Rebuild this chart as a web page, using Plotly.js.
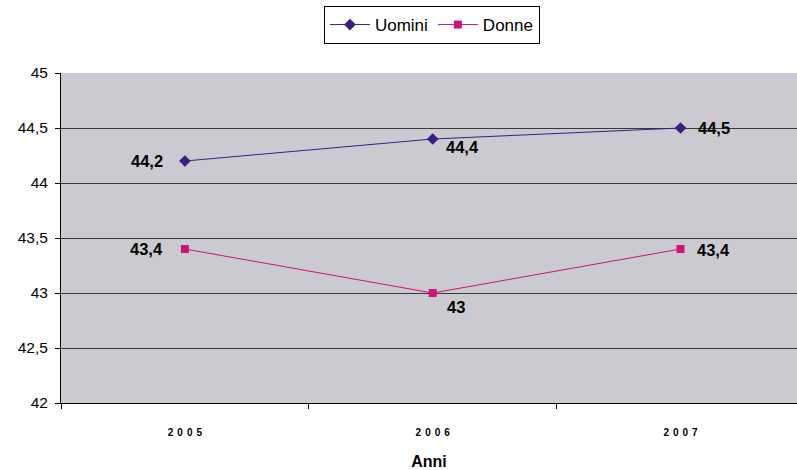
<!DOCTYPE html>
<html><head><meta charset="utf-8">
<script src="https://cdn.plot.ly/plotly-3.0.1.min.js"></script>
<style>html,body{margin:0;padding:0;background:#fff;overflow:hidden}</style>
</head><body><div id="chart" style="width:797px;height:470px"></div>
<script>
const years = ['2005', '2006', '2007'];
const uomini = [44.2, 44.4, 44.5];
const donne = [43.4, 43.0, 43.4];
const yTicks = [42, 42.5, 43, 43.5, 44, 44.5, 45];

const xs = years.map((_, i) => i);
const fmt = v => String(v).replace('.', ',');

const traces = [
  {x: xs, y: uomini, name: 'Uomini', mode: 'lines+markers', type: 'scatter',
   line: {color: '#3C1E82', width: 1}, marker: {symbol: 'diamond', size: 9, color: '#3C1E82'}},
  {x: xs, y: donne, name: 'Donne', mode: 'lines+markers', type: 'scatter',
   line: {color: '#CC1479', width: 1}, marker: {symbol: 'square', size: 8, color: '#CC1479'}}
];

const uShift = [[-38, 0], [30, -8], [33, 0]];
const dShift = [[-38, 0], [23, -14], [33, -1]];
const annFont = {family: 'Liberation Sans, Arial', size: 16.5, color: '#000', weight: 'bold'};
const annotations = [];
uomini.forEach((v, i) => annotations.push({x: xs[i], y: v, text: fmt(v), showarrow: false,
  xshift: uShift[i][0], yshift: uShift[i][1], font: annFont}));
donne.forEach((v, i) => annotations.push({x: xs[i], y: v, text: fmt(v), showarrow: false,
  xshift: dShift[i][0], yshift: dShift[i][1], font: annFont}));

const layout = {
  width: 797, height: 470,
  margin: {l: 61, r: 0, t: 73, b: 67},
  paper_bgcolor: '#ffffff', plot_bgcolor: '#CBCAD0',
  separators: ',.',
  font: {family: 'Liberation Sans, Arial', color: '#000'},
  showlegend: true,
  legend: {orientation: 'h', x: 0.504, xanchor: 'center', y: 1.203, yanchor: 'top',
    bordercolor: '#000', borderwidth: 1, bgcolor: '#fff', font: {size: 17},
    itemwidth: 40, tracegroupgap: 0},
  xaxis: {range: [-0.5, 2.47], tickmode: 'array', tickvals: xs,
    ticktext: years.map(y => y.split('').join('\u2009\u2009')),
    ticks: '', showgrid: false, zeroline: false, showline: true, linecolor: '#000', linewidth: 1,
    tickfont: {size: 10, weight: 'bold'}, ticklabelstandoff: 20,
    minor: {tickvals: [-0.5, 0.5, 1.5], ticks: 'outside', ticklen: 5, tickcolor: '#000', showgrid: false},
    title: {text: '<b>Anni</b>', font: {size: 16}, standoff: 18}, fixedrange: true},
  yaxis: {range: [42, 45], tickmode: 'array', tickvals: yTicks, ticktext: yTicks.map(fmt),
    ticks: 'outside', ticklen: 5, tickcolor: '#000', showline: true, linecolor: '#000', linewidth: 1,
    showgrid: true, gridcolor: '#3a3a3a', gridwidth: 1, zeroline: false,
    tickfont: {size: 15.5}, ticklabelstandoff: 4, fixedrange: true},
  annotations: annotations
};
Plotly.newPlot('chart', traces, layout, {displayModeBar: false, staticPlot: true});
</script></body></html>
